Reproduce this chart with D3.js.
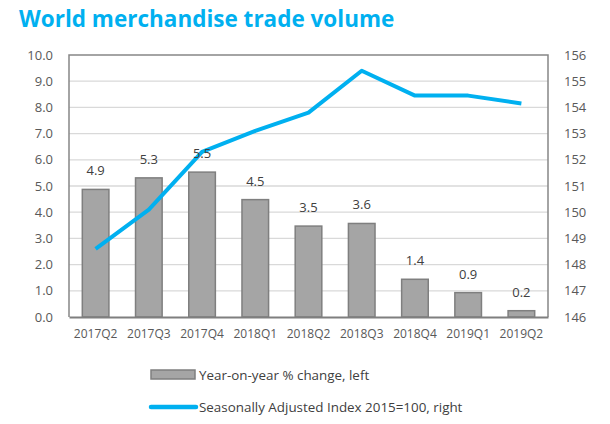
<!DOCTYPE html>
<html>
<head>
<meta charset="utf-8">
<script src="https://cdn.jsdelivr.net/npm/d3@7"></script>
<style>
  body { margin: 0; background: #fff; }
  text { font-family: "Open Sans", "Liberation Sans", sans-serif; }
</style>
</head>
<body>
<svg id="chart" width="610" height="424"></svg>
<script>
// quarters on the x axis
var quarters = ["2017Q2", "2017Q3", "2017Q4", "2018Q1", "2018Q2", "2018Q3", "2018Q4", "2019Q1", "2019Q2"];
// year-on-year % change (left axis)
var yoyChange = [4.87, 5.31, 5.53, 4.48, 3.47, 3.57, 1.44, 0.93, 0.24];
// seasonally adjusted index 2015=100 (right axis)
var volumeIndex = [148.6, 150.1, 152.3, 153.1, 153.8, 155.4, 154.45, 154.45, 154.15];
var leftTicks = [0, 1, 2, 3, 4, 5, 6, 7, 8, 9, 10];
var rightTicks = [146, 147, 148, 149, 150, 151, 152, 153, 154, 155, 156];

var svg = d3.select("#chart");
var margin = { left: 69, right: 62, top: 55, bottom: 107 };
var width = 610 - margin.left - margin.right;
var height = 424 - margin.top - margin.bottom;

var blue = "#00b0f0";

svg.append("text")
  .attr("x", 19)
  .attr("y", 27)
  .attr("fill", blue)
  .attr("font-weight", "bold")
  .attr("font-size", "22.5px")
  .text("World merchandise trade volume");

var g = svg.append("g").attr("transform", `translate(${margin.left},${margin.top})`);

var x = d3.scaleBand().domain(quarters).range([0, width]).paddingInner(0.5).paddingOuter(0.25);
var yL = d3.scaleLinear().domain([0, 10]).range([height, 0]);
var yR = d3.scaleLinear().domain([146, 156]).range([height, 0]);

// gridlines
g.selectAll(".grid").data(leftTicks.slice(1, -1)).enter()
  .append("line")
  .attr("x1", 0).attr("x2", width)
  .attr("y1", d => yL(d)).attr("y2", d => yL(d))
  .attr("stroke", "#d9d9d9").attr("stroke-width", 1.3);

// frame
g.append("path")
  .attr("d", `M0,${height}V0H${width}V${height}`)
  .attr("fill", "none").attr("stroke", "#868686").attr("stroke-width", 1.5);

// left axis
var leftAxis = g.append("g").call(d3.axisLeft(yL).tickValues(leftTicks).tickFormat(d3.format(".1f")).tickSize(0).tickPadding(16));
leftAxis.select(".domain").remove();
leftAxis.selectAll("text").attr("font-size", "13px").attr("fill", "#595959")
  .attr("font-family", "'Open Sans', sans-serif");

// right axis
var rightAxis = g.append("g").attr("transform", `translate(${width},0)`)
  .call(d3.axisRight(yR).tickValues(rightTicks).tickSize(0).tickPadding(16));
rightAxis.select(".domain").remove();
rightAxis.selectAll("text").attr("font-size", "13px").attr("fill", "#595959")
  .attr("font-family", "'Open Sans', sans-serif");

// bars
g.selectAll(".bar").data(yoyChange).enter()
  .append("rect")
  .attr("x", (d, i) => x(quarters[i]))
  .attr("y", d => yL(d))
  .attr("width", x.bandwidth())
  .attr("height", d => height - yL(d))
  .attr("fill", "#a5a5a5")
  .attr("stroke", "#7f7f7f")
  .attr("stroke-width", 1.5);

// bottom axis
var bottomAxis = g.append("g").attr("transform", `translate(0,${height})`)
  .call(d3.axisBottom(x).tickSize(0).tickPadding(12));
bottomAxis.select(".domain").attr("stroke", "#7f7f7f").attr("stroke-width", 2);
bottomAxis.selectAll("text").attr("font-size", "12px").attr("fill", "#595959")
  .attr("font-family", "'Open Sans', sans-serif");

// line
var line = d3.line()
  .x((d, i) => x(quarters[i]) + x.bandwidth() / 2)
  .y(d => yR(d));
g.append("path")
  .datum(volumeIndex)
  .attr("d", line)
  .attr("fill", "none")
  .attr("stroke", blue)
  .attr("stroke-width", 4)
  .attr("stroke-linejoin", "round");

// bar labels
g.selectAll(".lbl").data(yoyChange).enter()
  .append("text")
  .attr("x", (d, i) => x(quarters[i]) + x.bandwidth() / 2)
  .attr("y", d => yL(d) - 14)
  .attr("text-anchor", "middle")
  .attr("font-size", "13px")
  .attr("fill", "#404040")
  .text(d => d3.format(".1f")(d));

// legend
var leg = svg.append("g");
leg.append("rect")
  .attr("x", 151).attr("y", 370).attr("width", 44).attr("height", 9)
  .attr("fill", "#a5a5a5").attr("stroke", "#7f7f7f").attr("stroke-width", 1.5);
leg.append("text").attr("x", 199).attr("y", 380)
  .attr("font-size", "13.4px").attr("fill", "#404040")
  .text("Year-on-year % change, left");
leg.append("line")
  .attr("x1", 151).attr("x2", 196).attr("y1", 407).attr("y2", 407)
  .attr("stroke", blue).attr("stroke-width", 4.5).attr("stroke-linecap", "round");
leg.append("text").attr("x", 199).attr("y", 412)
  .attr("font-size", "13.4px").attr("fill", "#404040")
  .text("Seasonally Adjusted Index 2015=100, right");
</script>
</body>
</html>
